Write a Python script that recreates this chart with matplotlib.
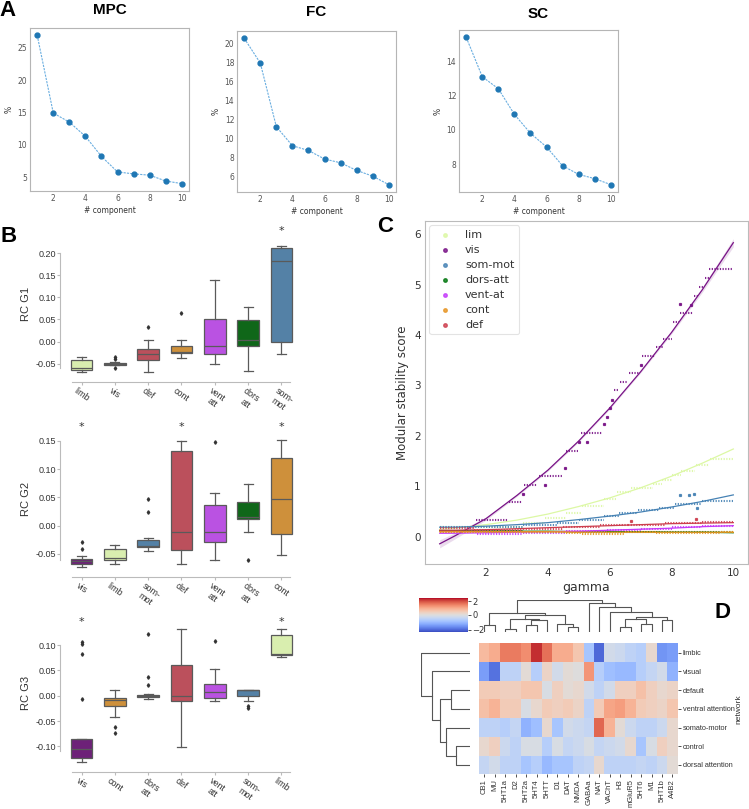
import numpy as np
import matplotlib
matplotlib.use("Agg")
import matplotlib.pyplot as plt
import seaborn as sns
from matplotlib.colors import TwoSlopeNorm

W, H = 749, 809

# ---------------- A: explained variance per component
components = list(range(1, 11))
mpc_var = [26.9, 14.9, 13.5, 11.3, 8.2, 5.8, 5.5, 5.3, 4.4, 4.0]
fc_var = [20.5, 17.9, 11.2, 9.2, 8.7, 7.8, 7.4, 6.6, 6.0, 5.1]
sc_var = [15.4, 13.1, 12.4, 10.9, 9.8, 9.0, 7.9, 7.4, 7.15, 6.8]

# ---------------- B: RC gradient values per network (box statistics)
net_colors = {'limb': '#DCF8A4', 'vis': '#781286', 'def': '#CD3E4E', 'cont': '#E69422',
              'vent att': '#C43AFA', 'dors att': '#00760E', 'som-mot': '#4682B4'}
tick_names = {'vent att': 'vent\natt', 'dors att': 'dors\natt', 'som-mot': 'som-\nmot'}

g1_order = ['limb', 'vis', 'def', 'cont', 'vent att', 'dors att', 'som-mot']
g1_whislo = [-0.068, -0.053, -0.069, -0.037, -0.051, -0.067, -0.029]
g1_q1 = [-0.065, -0.052, -0.041, -0.027, -0.028, -0.009, -0.001]
g1_med = [-0.060, -0.050, -0.028, -0.024, -0.009, 0.004, 0.181]
g1_q3 = [-0.041, -0.048, -0.017, -0.011, 0.052, 0.048, 0.211]
g1_whishi = [-0.035, -0.047, 0.004, 0.004, 0.139, 0.078, 0.215]
g1_fliers = [[], [-0.036, -0.039, -0.060], [0.033], [0.064], [], [], []]
g1_star = [0, 0, 0, 0, 0, 0, 1]

g2_order = ['vis', 'limb', 'som-mot', 'def', 'vent att', 'dors att', 'cont']
g2_whislo = [-0.073, -0.067, -0.045, -0.067, -0.060, -0.011, -0.052]
g2_q1 = [-0.067, -0.061, -0.038, -0.043, -0.029, 0.012, -0.015]
g2_med = [-0.062, -0.057, -0.036, -0.011, -0.012, 0.016, 0.047]
g2_q3 = [-0.059, -0.041, -0.025, 0.132, 0.036, 0.041, 0.119]
g2_whishi = [-0.053, -0.035, -0.021, 0.149, 0.058, 0.074, 0.151]
g2_fliers = [[-0.028, -0.041], [], [0.047, 0.024], [], [0.148], [-0.060], []]
g2_star = [1, 0, 0, 1, 0, 0, 1]

g3_order = ['vis', 'cont', 'dors att', 'def', 'vent att', 'som-mot', 'limb']
g3_whislo = [-0.130, -0.043, -0.007, -0.102, -0.011, -0.011, 0.076]
g3_q1 = [-0.122, -0.021, -0.003, -0.011, -0.005, 0.000, 0.080]
g3_med = [-0.106, -0.009, -0.001, -0.001, 0.007, 0.011, 0.082]
g3_q3 = [-0.086, -0.005, 0.002, 0.060, 0.023, 0.012, 0.119]
g3_whishi = [-0.086, 0.012, 0.004, 0.132, 0.053, 0.012, 0.132]
g3_fliers = [[0.105, 0.102, 0.083, -0.007], [-0.061, -0.074], [0.122, 0.037, 0.021], [],
             [0.107], [-0.020, -0.024], []]
g3_star = [1, 0, 0, 0, 0, 0, 1]

# ---------------- C: modular stability vs gamma
c_names = ['lim', 'vis', 'som-mot', 'dors-att', 'vent-at', 'cont', 'def']
c_colors = ['#DCF8A4', '#781286', '#4682B4', '#00760E', '#C43AFA', '#E69422', '#CD3E4E']
# plateaus of the scatter: (gamma start, gamma end, score)
c_plateaus = {
    'lim': [(0.5, 3.2, 0.20), (3.2, 3.9, 0.27), (3.9, 4.6, 0.37), (4.6, 5.1, 0.48), (5.1, 5.8, 0.60),
            (5.8, 6.2, 0.75), (6.25, 6.7, 0.88), (6.7, 7.4, 0.97), (7.4, 7.7, 1.05), (7.7, 8.0, 1.13),
            (8.0, 8.3, 1.22), (8.3, 8.75, 1.30), (8.8, 9.2, 1.43), (9.25, 10.0, 1.55)],
    'vis': [(0.5, 1.65, 0.12), (1.68, 2.72, 0.33), (2.75, 3.15, 0.68), (3.18, 3.18, 0.85),
            (3.22, 3.66, 1.03), (3.9, 3.9, 1.03), (3.7, 4.5, 1.20), (4.57, 4.57, 1.36),
            (4.6, 4.97, 1.70), (5.0, 5.0, 1.87), (5.26, 5.26, 1.87), (5.08, 5.75, 2.05),
            (5.83, 5.83, 2.23), (5.91, 5.91, 2.38), (6.0, 6.0, 2.56), (6.07, 6.07, 2.72),
            (6.15, 6.3, 2.90), (6.33, 6.6, 3.07), (6.62, 6.97, 3.24), (7.02, 7.02, 3.40),
            (7.05, 7.48, 3.58), (7.5, 7.72, 3.77), (7.74, 8.02, 3.93), (8.04, 8.24, 4.26),
            (8.29, 8.29, 4.62), (8.27, 8.71, 4.44), (8.62, 8.62, 4.60), (8.74, 8.86, 4.78),
            (8.88, 9.05, 4.96), (9.07, 9.2, 5.13), (9.22, 10.0, 5.30)],
    'som-mot': [(0.5, 3.2, 0.20), (3.2, 4.3, 0.24), (4.3, 5.0, 0.28), (5.0, 5.8, 0.33),
                (5.8, 6.3, 0.42), (6.3, 6.9, 0.47), (6.9, 7.6, 0.53), (7.6, 8.1, 0.58),
                (8.1, 9.0, 0.65), (9.0, 10.0, 0.70), (8.26, 8.26, 0.82), (8.56, 8.56, 0.82),
                (8.72, 8.72, 0.84), (8.83, 8.83, 0.58)],
    'dors-att': [(0.5, 3.2, 0.12), (3.2, 6.0, 0.10), (6.0, 7.5, 0.10), (7.5, 10.0, 0.09)],
    'vent-at': [(0.5, 1.7, 0.10), (1.7, 3.2, 0.05), (3.2, 4.6, 0.08), (4.6, 5.9, 0.11),
                (5.9, 7.0, 0.14), (7.0, 8.0, 0.16), (8.0, 9.0, 0.19), (9.0, 10.0, 0.22)],
    'cont': [(0.5, 3.2, 0.09), (3.2, 4.6, 0.10), (4.6, 5.1, 0.08), (5.1, 6.5, 0.06),
             (6.5, 7.5, 0.09), (7.5, 9.6, 0.07), (9.6, 10.0, 0.10)],
    'def': [(0.5, 1.6, 0.18), (1.6, 3.2, 0.14), (3.2, 4.5, 0.16), (4.5, 5.7, 0.20), (5.7, 6.6, 0.24),
            (6.6, 7.8, 0.24), (7.8, 9.0, 0.28), (9.0, 10.0, 0.29), (6.7, 6.7, 0.31), (8.8, 8.8, 0.36)],
}
fit_gamma = [0.5, 1, 2, 3, 4, 5, 6, 7, 8, 9, 10]
c_fit = {
    'lim': [0.15, 0.17, 0.24, 0.33, 0.45, 0.60, 0.77, 0.97, 1.20, 1.46, 1.74],
    'vis': [-0.14, 0.02, 0.36, 0.82, 1.32, 1.90, 2.55, 3.27, 4.05, 4.90, 5.83],
    'som-mot': [0.19, 0.19, 0.21, 0.24, 0.28, 0.34, 0.41, 0.49, 0.59, 0.70, 0.83],
    'dors-att': [0.12, 0.12, 0.11, 0.11, 0.11, 0.10, 0.10, 0.10, 0.09, 0.09, 0.08],
    'vent-at': [0.07, 0.07, 0.08, 0.09, 0.10, 0.11, 0.13, 0.15, 0.17, 0.20, 0.22],
    'cont': [0.10, 0.10, 0.10, 0.10, 0.10, 0.09, 0.09, 0.09, 0.09, 0.09, 0.09],
    'def': [0.13, 0.13, 0.14, 0.16, 0.18, 0.20, 0.22, 0.24, 0.26, 0.27, 0.28],
}
vis_ci = [0.08, 0.06, 0.03, 0.02, 0.02, 0.02, 0.02, 0.02, 0.03, 0.05, 0.08]

# ---------------- D: receptor x network clustermap (already in cluster order)
receptors = ['CB1', 'MU', '5HT1a', 'D2', '5HT2a', '5HT4', '5HTT', 'D1', 'DAT', 'NMDA', 'GABAa',
             'NAT', 'VAChT', 'H3', 'mGluR5', '5HT6', 'M1', '5HT1b', 'A4B2']
networks = ['limbic', 'visual', 'default', 'ventral attention', 'somato-motor', 'control',
            'dorsal attention']
heat = [
    [0.8, 1.0, 1.6, 1.6, 1.4, 2.3, 1.7, 1.0, 1.0, 0.6, -0.8, -2.0, -0.2, -0.3, -0.5, -0.6, 0.2, -1.5, -1.4],
    [-1.4, -1.9, -0.5, -0.5, 0.1, -0.6, 0.3, -0.2, 0.1, 0.0, 1.3, -0.6, -0.9, -1.0, -1.0, -0.6, -0.4, -0.2, -1.1],
    [0.5, 0.5, 0.4, 0.4, 0.6, 0.6, -0.1, 0.4, 0.1, 0.2, -0.2, -0.5, -0.2, 0.4, 0.4, 0.7, 0.4, 0.2, 0.3],
    [0.7, 0.9, 0.5, 0.5, -0.1, 0.2, 0.5, 0.4, 0.5, 0.3, -0.5, 0.5, 1.1, 1.2, 0.9, 0.5, 0.4, 0.3, 0.6],
    [-0.5, -0.5, -0.6, -0.4, -1.1, -0.9, 0.2, -0.8, -0.2, -0.3, -0.4, 1.8, 0.9, 0.1, -0.3, -0.5, -0.5, -0.3, 0.2],
    [0.2, 0.4, -0.3, -0.5, -0.1, -0.1, -0.6, -0.1, -0.4, -0.3, -0.1, -0.4, -0.3, -0.2, 0.2, -0.8, -0.1, 0.4, 0.2],
    [-0.4, -0.2, -0.5, -0.5, -0.8, -0.6, -1.0, -0.8, -0.8, -0.5, -0.4, 0.2, -0.5, -0.5, -0.5, -0.4, -0.5, -0.3, 0.1],
]
# linkage: (child a, child b, height); leaves are 0..n-1, new nodes numbered n, n+1, ...
col_links = [(0, 1, 20), (2, 3, 8), (4, 5, 22), (21, 6, 35), (20, 22, 40), (8, 9, 15), (7, 24, 25),
             (23, 25, 50), (19, 26, 55), (13, 14, 15), (15, 16, 25), (28, 29, 40), (17, 18, 35),
             (30, 31, 45), (12, 32, 60), (11, 33, 75), (10, 34, 85), (27, 35, 95)]
row_links = [(2, 3, 55), (5, 6, 40), (4, 8, 72), (7, 9, 88), (1, 10, 112), (0, 11, 145)]


def ax_px(l, t, r, b):
    return fig.add_axes([l / W, 1 - b / H, (r - l) / W, (b - t) / H])


fig = plt.figure(figsize=(W / 100, H / 100), dpi=100)
bold = dict(family='Liberation Sans', fontweight='bold')

# ================= A
fig.text(8 / W, 1 - 10 / H, 'A', fontsize=16, ha='center', va='center', **bold)
for (l, t, r, b), vals, title, ty in [((30, 28, 189, 191), mpc_var, 'MPC', 10),
                                      ((237, 31, 396, 192), fc_var, 'FC', 12),
                                      ((459, 30, 618, 192), sc_var, 'SC', 14)]:
    ax = ax_px(l, t, r, b)
    ax.plot(components, vals, ls=(0, (2, 1)), lw=0.8, color='#6aaee0')
    ax.plot(components, vals, 'o', ms=3.5, color='#1f77b4')
    ax.set_xticks([2, 4, 6, 8, 10])
    ax.tick_params(length=0, labelsize=5.5, colors='#555555', pad=2)
    for s in ax.spines.values():
        s.set_color('#b5b5b5')
        s.set_linewidth(0.8)
    ax.set_xlabel('# component', fontsize=5.5, color='#333333', labelpad=2)
    ax.set_ylabel('%', fontsize=5.5, color='#333333', labelpad=3)
    fig.text((l + r) / 2 / W, 1 - ty / H, title, fontsize=11, ha='center', va='center', **bold)

# ================= B
fig.text(9 / W, 1 - 237 / H, 'B', fontsize=16, ha='center', va='center', **bold)
b_panels = [
    (g1_order, g1_whislo, g1_q1, g1_med, g1_q3, g1_whishi, g1_fliers, g1_star, 0.249,
     'RC G1', (-0.0915, 0.26), (226.5, 382), [-0.05, 0.0, 0.05, 0.10, 0.15, 0.20]),
    (g2_order, g2_whislo, g2_q1, g2_med, g2_q3, g2_whishi, g2_fliers, g2_star, 0.175,
     'RC G2', (-0.0907, 0.185), (421, 577), [-0.05, 0.0, 0.05, 0.10, 0.15]),
    (g3_order, g3_whislo, g3_q1, g3_med, g3_q3, g3_whishi, g3_fliers, g3_star, 0.146,
     'RC G3', (-0.150, 0.16), (614.6, 771.7), [-0.10, -0.05, 0.0, 0.05, 0.10]),
]
for order, wlo, q1, med, q3, whi, fl, star, star_y, ylab, ylim, (t, b), yt in b_panels:
    ax = ax_px(60, t, 298, b)
    stats = [dict(whislo=wlo[i], q1=q1[i], med=med[i], q3=q3[i], whishi=whi[i], fliers=fl[i])
             for i in range(len(order))]
    bp = ax.bxp(stats, positions=range(len(order)), widths=0.65, patch_artist=True,
                capwidths=0.27,
                boxprops=dict(edgecolor='#5a5a5a', linewidth=0.9),
                medianprops=dict(color='#5a5a5a', linewidth=0.9),
                whiskerprops=dict(color='#5a5a5a', linewidth=0.9),
                capprops=dict(color='#5a5a5a', linewidth=0.9),
                flierprops=dict(marker='d', markersize=1.8, markerfacecolor='#333333',
                                markeredgecolor='#333333'))
    for patch, name in zip(bp['boxes'], order):
        patch.set_facecolor(sns.desaturate(net_colors[name], 0.75))
    for i, s in enumerate(star):
        if s:
            ax.text(i, star_y, '*', ha='center', va='center', fontsize=8, color='#333333')
    ax.set_xlim(-0.65, 6.5)
    ax.set_ylim(*ylim)
    ax.set_yticks(yt)
    ax.set_yticklabels(['%.2f' % v for v in yt], family='Liberation Sans')
    ax.set_xticks(range(len(order)))
    ax.set_xticklabels([tick_names.get(n, n) for n in order], rotation=-35, ha='center',
                       va='top', family='Liberation Sans', fontsize=6.5, color='#333333')
    ax.tick_params(axis='y', labelsize=6.5, colors='#bbbbbb', labelcolor='#333333', length=2, pad=1)
    ax.tick_params(axis='x', colors='#bbbbbb', labelcolor='#333333', length=2, pad=1)
    for side in ['top', 'right']:
        ax.spines[side].set_visible(False)
    for side in ['left', 'bottom']:
        ax.spines[side].set_color('#bbbbbb')
        ax.spines[side].set_linewidth(0.8)
    ax.spines['left'].set_bounds(yt[0] - 0.01, yt[-1])
    ax.spines['bottom'].set_bounds(-0.3, 6.25)
    ax.set_ylabel(ylab, fontsize=8, family='Liberation Sans', color='#333333', labelpad=3)

# ================= C
fig.text(385 / W, 1 - 227 / H, 'C', fontsize=16, ha='center', va='center', **bold)
ax = ax_px(425, 221, 748, 564)
for name, col in zip(c_names, c_colors):
    for s, e, v in c_plateaus[name]:
        if e > s:
            ax.plot([s, e], [v, v], ls=(0, (0.6, 0.7)), lw=1.5, color=col, alpha=0.9)
        else:
            ax.plot([s], [v], 's', ms=1.3, color=col, alpha=0.9)
    ax.plot(fit_gamma, c_fit[name], color=col, lw=0.9)
    ax.scatter([], [], s=10, color=col, alpha=0.8, label=name)
vis_lo = [v - c for v, c in zip(c_fit['vis'], vis_ci)]
vis_hi = [v + c for v, c in zip(c_fit['vis'], vis_ci)]
ax.fill_between(fit_gamma, vis_lo, vis_hi, color='#781286', alpha=0.15, lw=0)
ax.set_xlim(0.025, 10.475)
ax.set_ylim(-0.54, 6.26)
ax.set_xticks([2, 4, 6, 8, 10])
ax.set_yticks(range(0, 7))
ax.tick_params(length=0, labelsize=7.5, colors='#333333', pad=3)
for s in ax.spines.values():
    s.set_color('#bbbbbb')
    s.set_linewidth(0.8)
ax.set_xlabel('gamma', fontsize=9, color='#333333', labelpad=2)
ax.set_ylabel('Modular stability score', fontsize=8.5, color='#333333', labelpad=4)
leg = ax.legend(loc='upper left', fontsize=8, frameon=True, borderaxespad=0.4,
                handletextpad=0.8, labelspacing=0.45, borderpad=0.4, markerscale=0.8)
leg.get_frame().set_edgecolor('#dddddd')
leg.get_frame().set_linewidth(0.8)
for txt in leg.get_texts():
    txt.set_color('#333333')

# ================= D
fig.text(723 / W, 1 - 612 / H, 'D', fontsize=16, ha='center', va='center', **bold)
hm_l, hm_t, hm_r, hm_b = 479, 643.3, 677.7, 774.3
axh = ax_px(hm_l, hm_t, hm_r, hm_b)
norm = TwoSlopeNorm(vmin=-2.3, vcenter=0, vmax=2.5)
mesh = axh.pcolormesh(np.arange(len(receptors) + 1), np.arange(len(networks) + 1), np.array(heat),
                      cmap='coolwarm', norm=norm)
axh.set_xlim(0, len(receptors))
axh.set_ylim(len(networks), 0)
axh.set_xticks(np.arange(len(receptors)) + 0.5)
axh.set_xticklabels(receptors, rotation=90, fontsize=5.5, family='Liberation Sans', color='#333333')
axh.yaxis.tick_right()
axh.set_yticks(np.arange(len(networks)) + 0.5)
axh.set_yticklabels(networks, fontsize=5.3, family='Liberation Sans', color='#333333')
axh.tick_params(length=2.5, width=0.6, colors='#333333', pad=1)
for s in axh.spines.values():
    s.set_visible(False)
axh.yaxis.set_label_position('right')
axh.set_ylabel('network', fontsize=6, family='Liberation Sans', color='#333333', labelpad=1)


def draw_dendro(ax, links, n, orient):
    pos = {i: i + 0.5 for i in range(n)}
    hgt = {i: 0.0 for i in range(n)}
    for k, (a, b, h) in enumerate(links):
        xa, xb = pos[a], pos[b]
        if orient == 'top':
            ax.plot([xa, xa, xb, xb], [hgt[a], h, h, hgt[b]], color='#555555', lw=0.8)
        else:
            ax.plot([hgt[a], h, h, hgt[b]], [xa, xa, xb, xb], color='#555555', lw=0.8)
        pos[n + k] = (xa + xb) / 2
        hgt[n + k] = h
    ax.axis('off')


axc = ax_px(hm_l, 600, hm_r, 632)
draw_dendro(axc, col_links, len(receptors), 'top')
axc.set_xlim(0, len(receptors))
axc.set_ylim(0, 95)

axr = ax_px(421, hm_t, 470, hm_b)
draw_dendro(axr, row_links, len(networks), 'left')
axr.set_ylim(len(networks), 0)
axr.set_xlim(145, 0)

cax = ax_px(419, 598, 468, 632)
cb = fig.colorbar(mesh, cax=cax)
cb.set_ticks([-2, 0, 2])
cb.outline.set_visible(False)
cax.tick_params(labelsize=6, length=2, width=0.6, colors='#333333', pad=1)

fig.savefig('out.png', dpi=100)
